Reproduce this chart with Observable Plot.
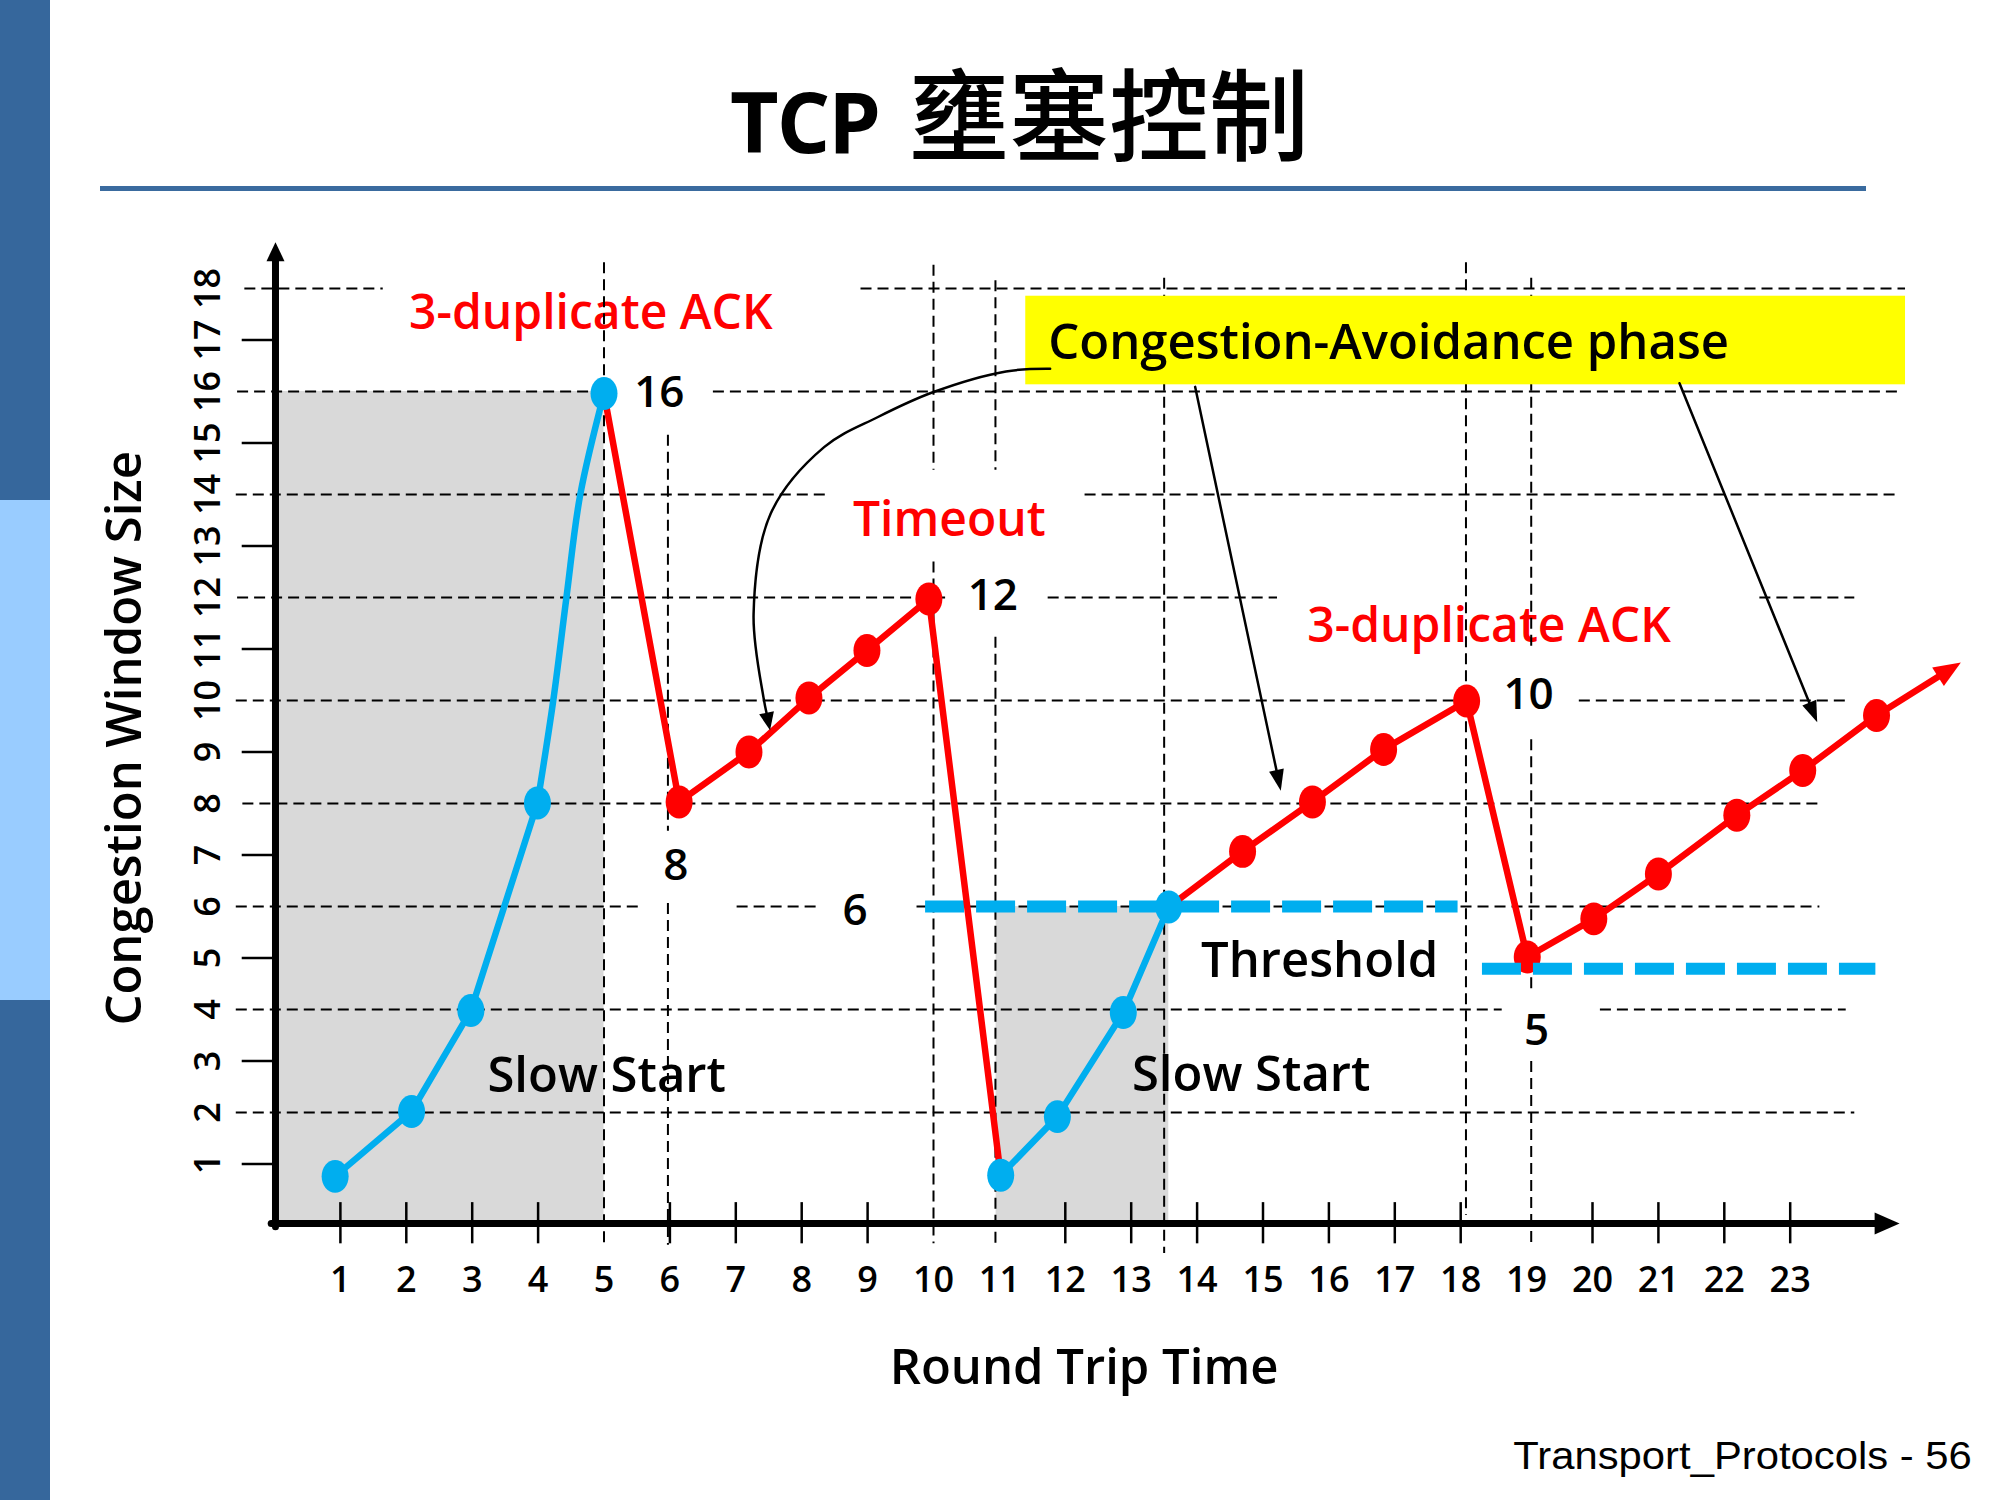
<!DOCTYPE html>
<html>
<head>
<meta charset="utf-8">
<script src="https://cdn.jsdelivr.net/npm/d3@7"></script>
<script src="https://cdn.jsdelivr.net/npm/@observablehq/plot@0.6"></script>
<style>
  html, body { margin: 0; padding: 0; background: #fff; }
  #page { position: relative; width: 2000px; height: 1500px; overflow: hidden; background: #fff; }
  #bar { position: absolute; left: 0; top: 0; width: 50px; height: 1500px;
    background: linear-gradient(to bottom, #36679C 0, #36679C 500px, #99CCFF 500px, #99CCFF 1000px, #36679C 1000px, #36679C 1500px); }
  #title { position: absolute; left: 730px; top: 60px; display: flex; align-items: baseline; white-space: nowrap; color: #000; }
  #title .lat { font-family: "Open Sans", sans-serif; font-weight: 700; font-size: 84px; line-height: 1; letter-spacing: -2px; }
  #title .cjk { font-family: "Noto Sans CJK TC", sans-serif; font-weight: 500; font-size: 100px; line-height: 1; margin-left: 30px; }
  #rule { position: absolute; left: 100px; top: 186px; width: 1766px; height: 5px; background: #3A6B9F; }
  #chart { position: absolute; left: 0; top: 200px; }
  #footer { position: absolute; right: 28px; top: 1437px; font-family: "Liberation Sans", Arial, sans-serif; font-size: 38px; line-height: 1; color: #000; white-space: nowrap; transform: scaleX(1.1); transform-origin: right center; }
</style>
</head>
<body>
<div id="page">
  <div id="bar"></div>
  <div id="title"><span class="lat">TCP</span><span class="cjk">壅塞控制</span></div>
  <div id="rule"></div>
  <div id="chart"></div>
  <div id="footer">Transport_Protocols - 56</div>
</div>
<script>
// ---------- data (x = round trip time, y = window size) ----------
const xTicks = [1,2,3,4,5,6,7,8,9,10,11,12,13,14,15,16,17,18,19,20,21,22,23];
const yTicks = [1,2,3,4,5,6,7,8,9,10,11,12,13,14,15,16,17,18];
const xTickMarks = [1,2,3,4,6,7,8,9,12,13,14,15,16,17,18,20,21,22,23];
const yOddTicks = [1,3,5,7,9,11,13,15,17];

const slowStart1 = [[0.92,0.76],[2.08,2.02],[2.98,3.98],[3.99,8.01],[5.0,15.96]];
const slowStart1Bend = [[4.23,10.0],[4.43,12.0],[4.64,14.0]];          // shape of the 4 -> 5 stroke
const avoidance1 = [[6.14,8.03],[7.2,9.0],[8.11,10.05],[8.99,10.97],[9.93,11.97]];
const slowStart2 = [[11.02,0.78],[11.88,1.92],[12.88,3.94],[13.57,5.99]];
const avoidance2 = [[14.69,7.07],[15.75,8.03],[16.83,9.05],[18.09,9.99]];
const avoidance3 = [[19.01,5.02],[20.02,5.76],[21.0,6.63],[22.19,7.77],[23.19,8.64],[24.31,9.71]];
const trendTip = [25.59,10.74];

const thresholds = [
  {value: 6.0, x1: 9.88, x2: 17.96},
  {value: 4.79, x1: 18.33, x2: 24.3}
];
const slowStartShades = [
  {x1: 0, x2: 5.0, top: 16},
  {x1: 10.95, x2: 13.57, top: 6}
];
// dashed grid segments [y, x1, x2] and [x, y1, y2]
const hGrid = [
  [18,-0.45,1.65],[18,8.9,24.75],
  [16,-0.56,5.0],[16,6.66,24.66],
  [14,-0.58,8.42],[14,12.3,24.66],
  [12,-0.56,10.2],[12,11.74,15.22],[12,22.54,23.98],
  [10,-0.58,18.05],[10,19.8,23.9],
  [8,-0.48,23.45],
  [6,-0.58,5.52],[6,7.02,8.28],[6,9.75,23.45],
  [4,-0.58,18.63],[4,20.12,23.85],
  [2,-0.58,23.98]
];
const vGrid = [
  [5.0,18.5,-0.58],
  [5.97,15.15,7.46],[5.97,6.06,-0.58],
  [10.0,18.45,14.47],[10.0,12.69,-0.55],
  [10.94,18.15,14.47],[10.94,11.23,-0.55],
  [13.5,18.2,-0.74],
  [18.08,18.5,0],
  [19.07,18.2,10.96],[19.07,9.24,4.39],[19.07,2.99,-0.55]
];
const phaseBox = {x1: 11.4, x2: 24.75, y1: 16.13, y2: 17.85, text: "Congestion-Avoidance phase", tx: 11.74, ty: 16.64};
const curvedPointer = [[11.77,16.44],[11.1,16.39],[10.0,15.99],[9.15,15.5],[8.34,14.92],[7.53,13.63],[7.27,11.68],[7.42,10.06],[7.52,9.42]];
const straightPointers = [[[13.97,16.09],[15.27,8.25]], [[21.32,16.16],[23.41,9.58]]];

const redLabels = [
  {text: "3-duplicate ACK", x: 4.80, y: 17.22},
  {text: "Timeout", x: 10.24, y: 13.2},
  {text: "3-duplicate ACK", x: 18.43, y: 11.13}
];
const blackLabels = [
  {text: "Slow Start", x: 5.04, y: 2.39},
  {text: "Slow Start", x: 14.82, y: 2.41},
  {text: "Threshold", x: 15.86, y: 4.63}
];
const valueLabels = [
  {text: "16", x: 5.84, y: 15.70},
  {text: "12", x: 10.9, y: 11.75},
  {text: "10", x: 19.03, y: 9.84},
  {text: "8", x: 6.09, y: 6.52},
  {text: "6", x: 8.81, y: 5.64},
  {text: "5", x: 19.15, y: 3.32}
];
const xTitle = "Round Trip Time";
const yTitle = "Congestion Window Size";

// ---------- layout ----------
const W = 2000, H = 1200, ML = 274, MR = 144.4, MT = 88, MB = 185;
const xDomain = [0, 24], yDomain = [0, 18];
const BLUE = "#00AEEF", RED = "#FF0000", GRAY = "#D9D9D9";
const axisY0 = -0.155;   // where the drawn x axis sits

let sx, sy;
try {
  sx = Plot.scale({x: {domain: xDomain, range: [ML, W - MR]}});
  sy = Plot.scale({y: {domain: yDomain, range: [H - MB, MT]}});
} catch (e) {
  const a = d3.scaleLinear(xDomain, [ML, W - MR]), b = d3.scaleLinear(yDomain, [H - MB, MT]);
  sx = {apply: a, invert: a.invert}; sy = {apply: b, invert: b.invert};
}

const ellipseDot = {
  draw(ctx, size) {
    const r = Math.sqrt(size / Math.PI), rx = r, ry = r * 1.22, k = 0.5523;
    ctx.moveTo(rx, 0);
    ctx.bezierCurveTo(rx, ry * k, rx * k, ry, 0, ry);
    ctx.bezierCurveTo(-rx * k, ry, -rx, ry * k, -rx, 0);
    ctx.bezierCurveTo(-rx, -ry * k, -rx * k, -ry, 0, -ry);
    ctx.bezierCurveTo(rx * k, -ry, rx, -ry * k, rx, 0);
    ctx.closePath();
  }
};

function arrowHead(from, to, len, halfW) {
  const x1 = sx.apply(from[0]), y1 = sy.apply(from[1]);
  const x2 = sx.apply(to[0]), y2 = sy.apply(to[1]);
  const a = Math.atan2(y2 - y1, x2 - x1), c = Math.cos(a), s = Math.sin(a);
  const symbol = {
    draw(ctx) {
      const bx = -len * c, by = -len * s;
      ctx.moveTo(0, 0);
      ctx.lineTo(bx - halfW * s, by + halfW * c);
      ctx.lineTo(bx + halfW * s, by - halfW * c);
      ctx.closePath();
    }
  };
  const base = [sx.invert(x2 - (len - 3) * c), sy.invert(y2 - (len - 3) * s)];
  return {symbol, tip: to, base};
}
function headMark(h, color) {
  return Plot.dot([h.tip], {x: d => d[0], y: d => d[1], symbol: h.symbol, fill: color, stroke: "none"});
}

// derived series
const blueTrace1 = slowStart1.slice(0, 4);
const blueBend = [slowStart1[3], ...slowStart1Bend, slowStart1[4]];
const redTrace1 = [slowStart1[4], ...avoidance1, slowStart2[0]];
const redTrace2 = [slowStart2[3], ...avoidance2, ...avoidance3];
const blueDots = [...slowStart1, ...slowStart2];
const redDots = [...avoidance1, ...avoidance2, ...avoidance3];

const xAxisHead = arrowHead([-0.05, axisY0], [24.66, axisY0], 25, 11);
const yAxisHead = arrowHead([0.015, -0.2], [0.015, 18.9], 19, 9);
const trendHead = arrowHead(avoidance3[avoidance3.length - 1], trendTip, 27, 11);
const curvedHead = arrowHead(curvedPointer[curvedPointer.length - 2], curvedPointer[curvedPointer.length - 1], 18, 7.5);
const curvedTrace = [...curvedPointer.slice(0, -1), curvedHead.base];
const straightHeads = straightPointers.map(([a, b]) => arrowHead(a, b, 21, 7.5));

const F = "'Open Sans', 'Noto Sans', sans-serif";
const XY = {x: d => d[0], y: d => d[1]};

const chart = Plot.plot({
  width: W, height: H,
  marginLeft: ML, marginRight: MR, marginTop: MT, marginBottom: MB,
  x: {domain: xDomain},
  y: {domain: yDomain},
  style: {fontFamily: F, fontSize: "36px", color: "#000", background: "transparent", overflow: "visible"},
  marks: [
    // shaded slow-start regions
    Plot.rect(slowStartShades, {x1: "x1", x2: "x2", y1: -0.1, y2: "top", fill: GRAY}),
    // annotation texts (under the dashed grid as in the slide)
    Plot.text(redLabels, {x: "x", y: "y", text: "text", fill: RED, fontSize: 48, fontWeight: 600, textAnchor: "middle", lineAnchor: "bottom"}),
    Plot.text(blackLabels, {x: "x", y: "y", text: "text", fill: "#000", fontSize: 49, fontWeight: 600, textAnchor: "middle", lineAnchor: "bottom"}),
    Plot.text(valueLabels, {x: "x", y: "y", text: "text", fill: "#000", fontSize: 44, fontWeight: 600, textAnchor: "middle", lineAnchor: "bottom"}),
    // dashed grid
    Plot.ruleY(hGrid, {y: d => d[0], x1: d => d[1], x2: d => d[2], stroke: "#000", strokeWidth: 2, strokeDasharray: "11,6"}),
    Plot.ruleX(vGrid, {x: d => d[0], y1: d => d[1], y2: d => d[2], stroke: "#000", strokeWidth: 2, strokeDasharray: "11,6"}),
    // yellow phase box
    Plot.rect([phaseBox], {x1: "x1", x2: "x2", y1: "y1", y2: "y2", fill: "#FFFF00"}),
    Plot.text([phaseBox], {x: "tx", y: "ty", text: "text", fill: "#000", fontSize: 49, fontWeight: 600, textAnchor: "start", lineAnchor: "bottom"}),
    // solid ticks
    Plot.ruleX(xTickMarks, {x: d => d, y1: -0.55, y2: 0.25, stroke: "#000", strokeWidth: 2.5}),
    Plot.ruleY(yOddTicks, {y: d => d, x1: -0.49, x2: -0.03, stroke: "#000", strokeWidth: 2.5}),
    // first threshold
    Plot.ruleY([thresholds[0]], {y: "value", x1: "x1", x2: "x2", stroke: BLUE, strokeWidth: 12, strokeDasharray: "39,12"}),
    // window-size traces
    Plot.line(redTrace1, {...XY, stroke: RED, strokeWidth: 6.5, strokeLinejoin: "round"}),
    Plot.line(redTrace2, {...XY, stroke: RED, strokeWidth: 6.5, strokeLinejoin: "round"}),
    Plot.line([avoidance3[avoidance3.length - 1], trendHead.base], {...XY, stroke: RED, strokeWidth: 6.5}),
    Plot.line(blueTrace1, {...XY, stroke: BLUE, strokeWidth: 6.5, strokeLinejoin: "round"}),
    Plot.line(blueBend, {...XY, curve: "catmull-rom", stroke: BLUE, strokeWidth: 6.5}),
    Plot.line(slowStart2, {...XY, stroke: BLUE, strokeWidth: 6.5, strokeLinejoin: "round"}),
    headMark(trendHead, RED),
    // pointers from the phase box
    Plot.line(curvedTrace, {...XY, curve: "catmull-rom", stroke: "#000", strokeWidth: 2.5}),
    headMark(curvedHead, "#000"),
    ...straightPointers.map(([a], i) => Plot.line([a, straightHeads[i].base], {...XY, stroke: "#000", strokeWidth: 2.5})),
    ...straightHeads.map(h => headMark(h, "#000")),
    // points
    Plot.dot(redDots, {...XY, r: 13.5, symbol: ellipseDot, fill: RED, stroke: "none"}),
    Plot.dot(blueDots, {...XY, r: 13.5, symbol: ellipseDot, fill: BLUE, stroke: "none"}),
    // second threshold
    Plot.ruleY([thresholds[1]], {y: "value", x1: "x1", x2: "x2", stroke: BLUE, strokeWidth: 12, strokeDasharray: "39,12"}),
    // axes
    Plot.line([[-0.05, axisY0], xAxisHead.base], {...XY, stroke: "#000", strokeWidth: 7}),
    headMark(xAxisHead, "#000"),
    Plot.line([[0.015, -0.22], yAxisHead.base], {...XY, stroke: "#000", strokeWidth: 7}),
    headMark(yAxisHead, "#000"),
    Plot.axisX({ticks: xTicks, tickSize: 0, tickPadding: 51, fontSize: 36, fontWeight: 600, label: null}),
    Plot.axisY({ticks: yTicks, tickSize: 0, tickPadding: 66, tickRotate: -90, textAnchor: "middle", lineAnchor: "middle", fontSize: 36, fontWeight: 600, label: null}),
    Plot.text([xTitle], {frameAnchor: "bottom", text: d => d, dx: 18.7, dy: 153, fontSize: 49, fontWeight: 600, textAnchor: "middle", lineAnchor: "middle", fill: "#000"}),
    Plot.text([yTitle], {frameAnchor: "left", text: d => d, dx: -149.4, dy: -13.7, rotate: -90, fontSize: 49, fontWeight: 600, textAnchor: "middle", lineAnchor: "middle", fill: "#000"})
  ]
});
document.getElementById("chart").appendChild(chart);
</script>
</body>
</html>
